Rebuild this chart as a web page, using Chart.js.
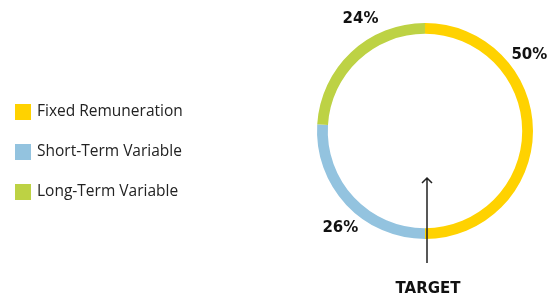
<!DOCTYPE html>
<html>
<head>
<meta charset="utf-8">
<script src="https://cdn.jsdelivr.net/npm/chart.js@4"></script>
<style>
  html, body { margin: 0; padding: 0; background: #fff; }
  #wrap { width: 553px; height: 303px; }
</style>
</head>
<body>
<div id="wrap"><canvas id="myChart" width="553" height="303"></canvas></div>
<script>
const labels = ['Fixed Remuneration', 'Short-Term Variable', 'Long-Term Variable']
const shares = [50, 26, 24]
const colors = ['#ffd200', '#93c3df', '#bdd244']
const centerText = 'TARGET'

// where the % labels sit, degrees clockwise from top (styling only)
const labelAngles = [54, 221, 330]

const overlay = {
  id: 'overlay',
  afterDraw(chart) {
    const ctx = chart.ctx
    const arc = chart.getDatasetMeta(0).data[0]
    const cx = arc.x, cy = arc.y, r = arc.outerRadius
    ctx.save()

    // legend
    ctx.font = '15.5px "Open Sans"'
    ctx.textBaseline = 'middle'
    labels.forEach((l, i) => {
      const y = 112 + i * 40
      ctx.fillStyle = colors[i]
      ctx.fillRect(15, y - 8, 16, 16)
      ctx.fillStyle = '#222'
      ctx.fillText(l, 37, y)
    })

    // percentages
    ctx.font = 'bold 15px "DejaVu Sans"'
    ctx.textAlign = 'center'
    ctx.fillStyle = '#111'
    shares.forEach((v, i) => {
      const a = labelAngles[i] * Math.PI / 180
      const d = r + 21
      ctx.fillText(v + '%', cx + d * Math.sin(a), cy - d * Math.cos(a))
    })

    // arrow
    const ax = cx + 2
    ctx.strokeStyle = '#222'
    ctx.lineWidth = 1.5
    ctx.beginPath()
    ctx.moveTo(ax, 263)
    ctx.lineTo(ax, 178)
    ctx.moveTo(ax - 5, 183)
    ctx.lineTo(ax, 178)
    ctx.lineTo(ax + 5, 183)
    ctx.stroke()

    ctx.fillText(centerText, ax + 1, 289)
    ctx.restore()
  }
}

new Chart(document.getElementById('myChart'), {
  type: 'doughnut',
  data: {
    labels: labels,
    datasets: [{
      data: shares,
      backgroundColor: colors,
      borderWidth: 0
    }]
  },
  options: {
    responsive: false,
    animation: false,
    cutout: '90%',
    layout: { padding: { left: 317, right: 20, top: 23, bottom: 64 } },
    plugins: { legend: { display: false }, tooltip: { enabled: false } }
  },
  plugins: [overlay]
})
</script>
</body>
</html>
